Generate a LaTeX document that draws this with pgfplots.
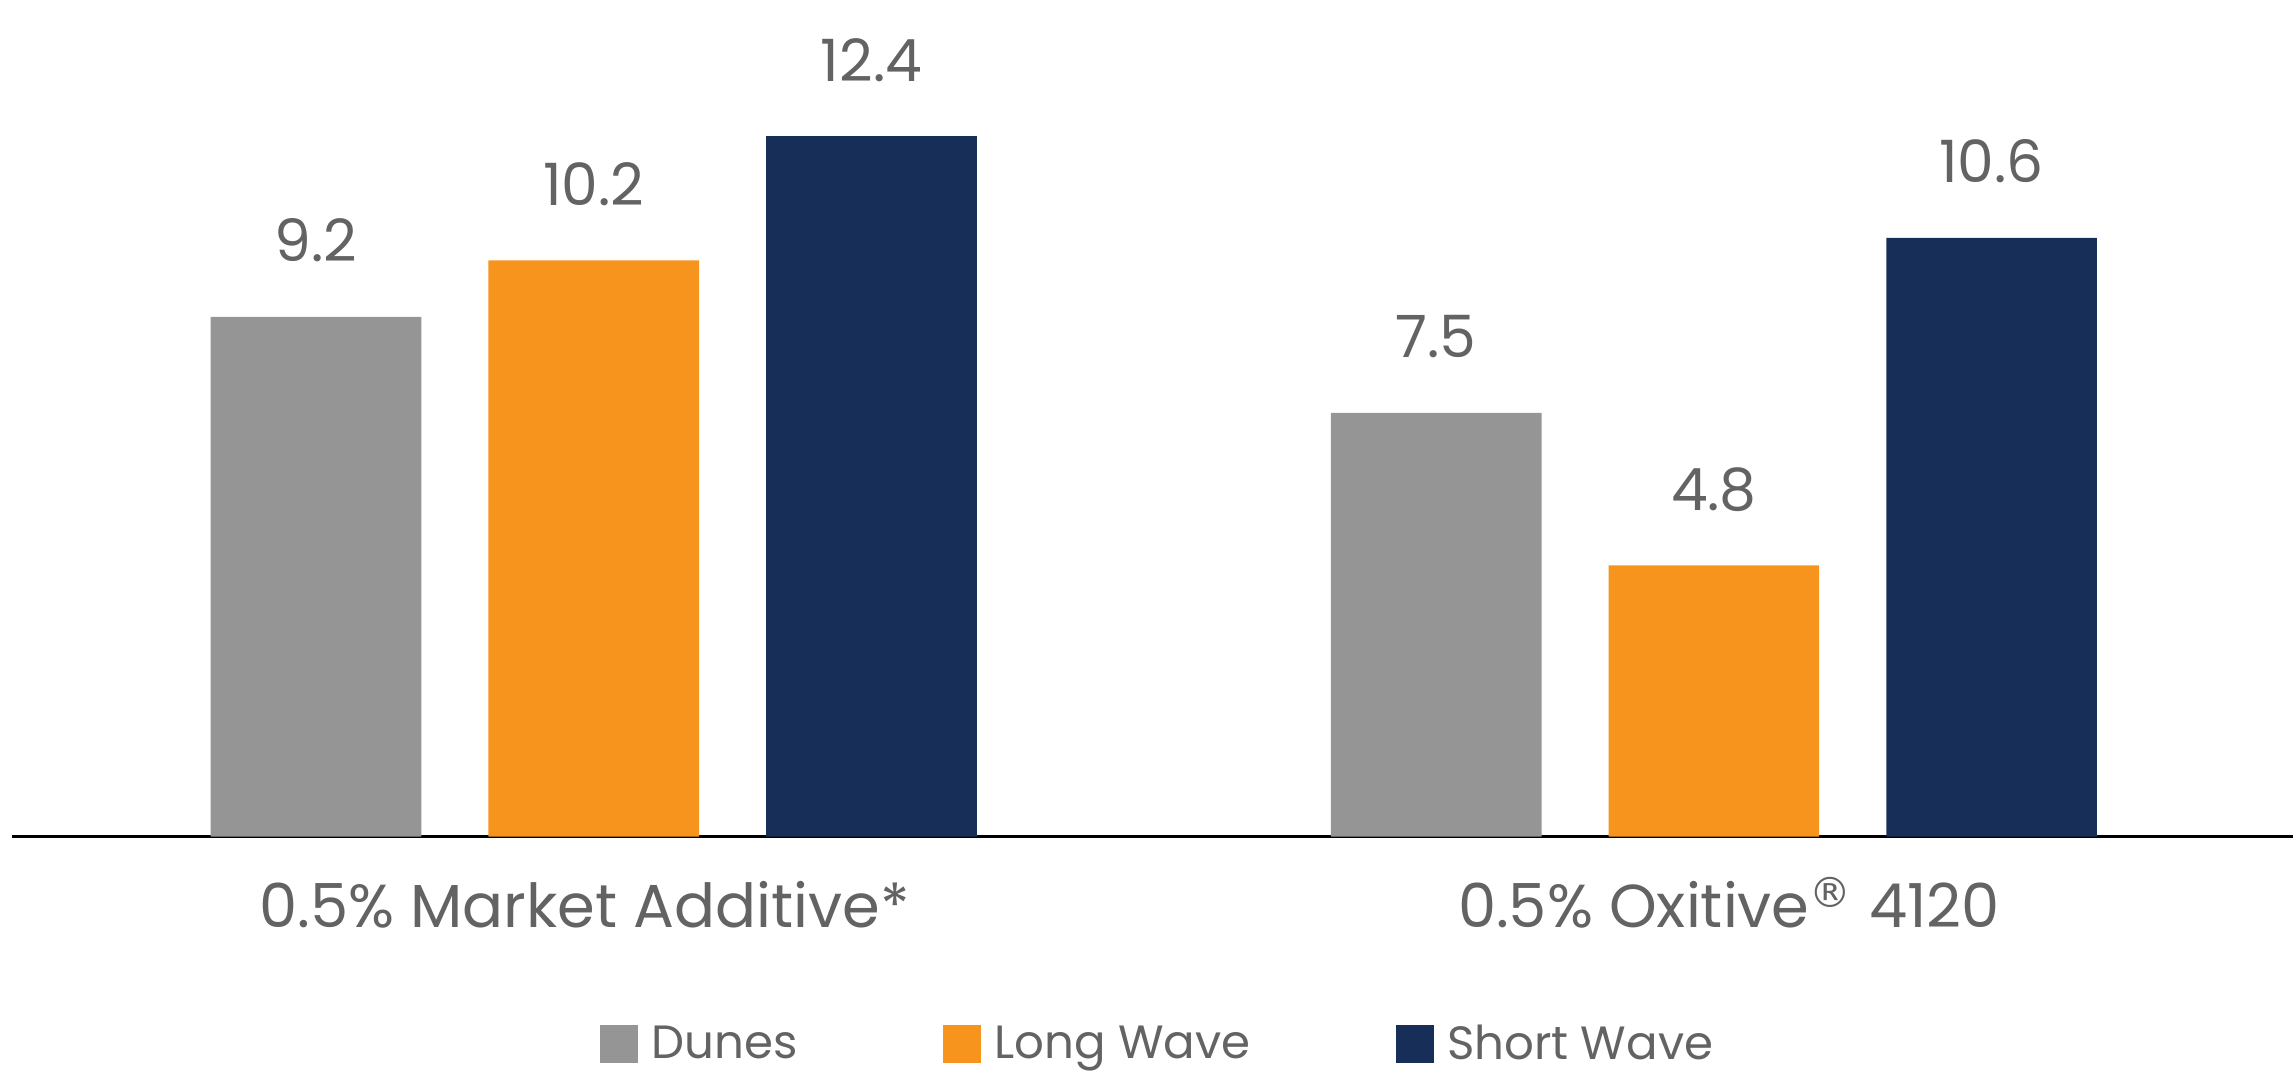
\documentclass[border=0pt]{standalone}
\usepackage{pgfplots}
\pgfplotsset{compat=1.18}
\usepackage{fontspec}
\setmainfont{Poppins}
\newfontfamily\dejavu{DejaVu Sans}
\definecolor{cgray}{HTML}{959595}
\definecolor{corange}{HTML}{F7941D}
\definecolor{cnavy}{HTML}{172F58}
\definecolor{ctext}{HTML}{636363}
\begin{document}
\begin{tikzpicture}
\path[use as bounding box] (-3.5pt,-70.05pt) rectangle (684.3pt,250.95pt);
\begin{axis}[
  scale only axis, width=684.3pt, height=250.95pt,
  xmin=-0.5196, xmax=1.517, ymin=0, ymax=14.81,
  ybar=20.1pt, bar width=63.2pt,
  axis x line=bottom, hide y axis,
  x axis line style={-, black, line width=1pt},
  xtick={0,1},
  xticklabels={0.5\% Market Additive*\hspace*{5.5pt}, \hspace*{9pt}0.5\% Oxitive\raisebox{5.8pt}{\fontsize{12.5}{13}\selectfont\dejavu ®}\hspace{0.5pt} 4120},
  major tick length=0pt,
  xticklabel style={anchor=base, yshift=-27.2pt, font=\fontsize{18.2}{22}\selectfont, text=ctext},
  ytick=\empty,
  nodes near coords={\pgfmathprintnumber[fixed,precision=1,fixed zerofill,assume math mode=true]{\pgfplotspointmeta}},
  every node near coord/.append style={anchor=base, yshift=16.5pt, font=\fontsize{17.5}{21}\selectfont, text=ctext},
  legend columns=3,
  legend style={at={(0.5038,-0.2483)}, anchor=center, draw=none, fill=none, inner sep=0pt,
    font=\fontsize{14}{17}\selectfont, text=ctext,
    /tikz/every even column/.append style={column sep=41pt},
    nodes={inner sep=2.6pt}},
  legend image code/.code={\fill[#1] (0pt,-5.7pt) rectangle (11.4pt,5.7pt); \path (12.8pt,0pt);},
  clip=false,
]
\addplot[fill=cgray, draw=none] coordinates {(0,9.2) (1,7.5)};
\addplot[fill=corange, draw=none] coordinates {(0,10.2) (1,4.8)};
\addplot[fill=cnavy, draw=none] coordinates {(0,12.4) (1,10.6)};
\legend{Dunes, Long Wave, Short Wave}
\end{axis}
\end{tikzpicture}
\end{document}
